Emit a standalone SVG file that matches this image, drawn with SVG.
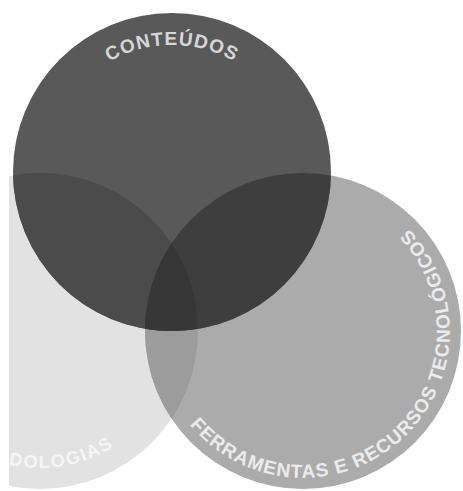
<svg xmlns="http://www.w3.org/2000/svg" xmlns:xlink="http://www.w3.org/1999/xlink" width="463" height="491" viewBox="0 0 463 491">
<style>
.lbl{font-family:"Liberation Sans","DejaVu Sans",sans-serif;font-size:19px;font-weight:bold;letter-spacing:1.1px}
.small{font-size:18px;letter-spacing:1.8px}
</style>
<defs>
<clipPath id="clipLeft"><rect x="9" y="0" width="454" height="491"/></clipPath>
<clipPath id="inLight"><circle cx="40" cy="331" r="158"/></clipPath>
<clipPath id="inGray"><circle cx="303" cy="331" r="158"/></clipPath>
<path id="arcTop" d="M 56.9 118.3 A 127 127 0 0 1 287.1 118.3"/>
<path id="arcGray" d="M 185.6 419.5 A 147 147 0 1 0 403.3 223.5"/>
<path id="arcLight" d="M -6.9 459.7 A 137 137 0 0 0 114.6 445.9"/>
</defs>
<rect width="463" height="491" fill="#ffffff"/>
<g id="metodologias" clip-path="url(#clipLeft)">
<circle cx="40" cy="331" r="158" fill="#e2e2e2"/>
<text class="lbl small" fill="#f5f5f5"><textPath href="#arcLight" xlink:href="#arcLight" startOffset="100%" text-anchor="end">DOLOGIAS</textPath></text>
</g>
<g id="ferramentas">
<circle cx="303" cy="331" r="158" fill="#ababab"/>
<g clip-path="url(#clipLeft)"><circle cx="303" cy="331" r="158" fill="#9c9c9c" clip-path="url(#inLight)"/></g>
<text class="lbl" fill="#ebebeb"><textPath href="#arcGray" xlink:href="#arcGray" startOffset="50%" text-anchor="middle">FERRAMENTAS E RECURSOS TECNOLÓGICOS</textPath></text>
</g>
<g id="conteudos">
<circle cx="172" cy="172" r="159" fill="#595959"/>
<g clip-path="url(#clipLeft)"><circle cx="172" cy="172" r="159" fill="#4b4b4b" clip-path="url(#inLight)"/></g>
<circle cx="172" cy="172" r="159" fill="#3e3e3e" clip-path="url(#inGray)"/>
<g clip-path="url(#inLight)"><circle cx="172" cy="172" r="159" fill="#373737" clip-path="url(#inGray)"/></g>
<text class="lbl" fill="#d6d6d6"><textPath href="#arcTop" xlink:href="#arcTop" startOffset="50%" text-anchor="middle">CONTEÚDOS</textPath></text>
</g>
<g id="connectors"/>
</svg>
